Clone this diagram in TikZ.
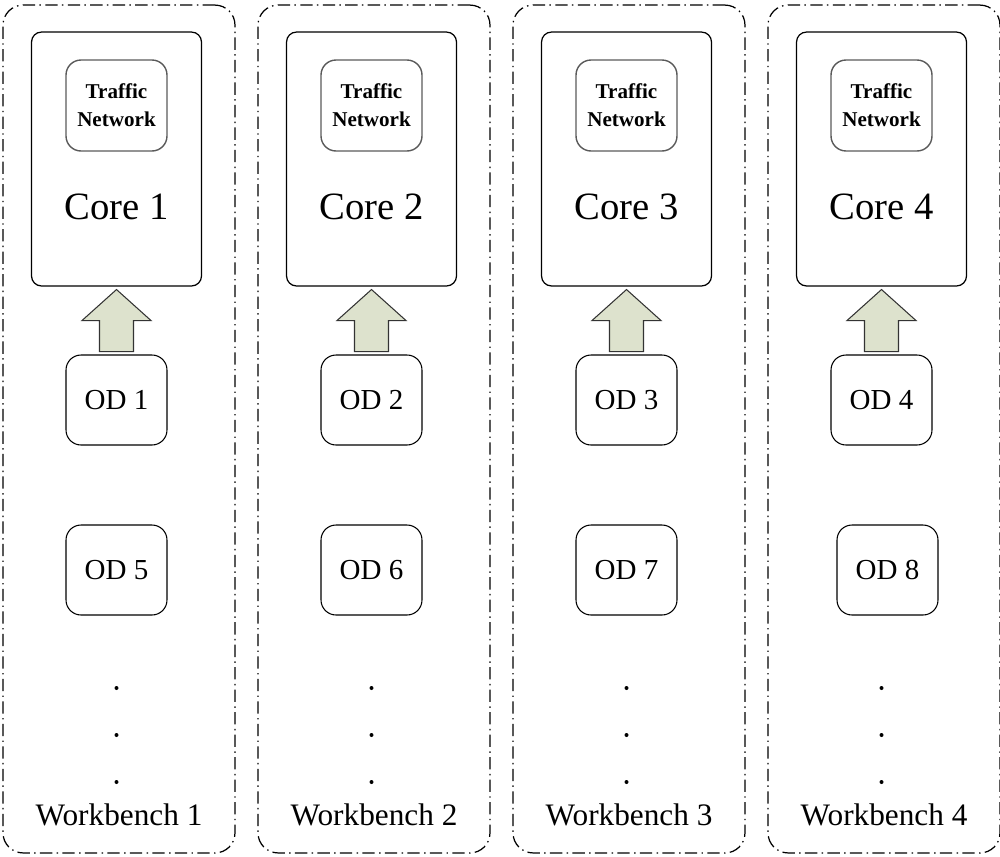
\documentclass[tikz,border=0pt]{standalone}
\usepackage{fontspec}
\setmainfont{Liberation Serif}
\usetikzlibrary{calc}
\definecolor{arrowfill}{RGB}{221, 226, 205}
\definecolor{tngray}{RGB}{90, 90, 90}
\tikzset{
  bench/.style = {draw, line width=0.7pt, rounded corners=0.4cm, minimum width=4.64cm, minimum height=16.96cm,
                  dash pattern=on 7pt off 2.5pt on 0.8pt off 2.5pt},
  core/.style  = {draw, line width=0.7pt, rounded corners=0.2cm, minimum width=3.4cm, minimum height=5.08cm},
  tn/.style    = {draw=tngray, line width=0.8pt, rounded corners=0.3cm, minimum width=2.02cm, minimum height=1.82cm,
                  align=center, font=\fontsize{12}{16}\selectfont\bfseries},
  od/.style    = {draw, line width=0.6pt, rounded corners=0.3cm, minimum width=2.02cm, minimum height=1.8cm,
                  font=\fontsize{16.5}{20}\selectfont},
  label/.style = {font=\fontsize{17.8}{20}\selectfont},
  uparrow/.style = {draw=black!80, line width=0.6pt, fill=arrowfill}
}

\begin{document}
\begin{tikzpicture}[x=0.02cm, y=-0.02cm]
\useasboundingbox (0,0) rectangle (1000,856);
\foreach \i/\lo/\s in {1/5/0, 2/6/0, 3/7/0, 4/8/6}{
  \pgfmathsetmacro\cx{116.5+(\i-1)*255}
  % workbench frame
  \node [bench] (wb\i) at ({\cx+2.5},429) {};
  % core with its traffic network
  \node [core] (core\i) at (\cx,159) {};
  \node [tn] (tn\i) at (\cx,105.5) {Traffic\\Network};
  \node [font=\fontsize{22}{24}\selectfont] (ct\i) at (\cx,207) {Core \i};
  % OD boxes
  \node [od] (od\i) at (\cx,400) {OD \i};
  \node [od] (od\lo) at ({\cx+\s},570) {OD \lo};
  % arrow OD -> core
  \coordinate (m\i) at ($(od\i.north)!0.5!(core\i.south)$);
  \draw[uparrow, shift={(m\i)}] (-17,31) -- (-17,0) -- (-34.5,0) -- (0,-31) -- (34.5,0) -- (17,0) -- (17,31) -- cycle;
  % dots and label
  \foreach \yy in {688, 735, 782}
    \fill (\cx,\yy) circle (2);
  \node [label] (wl\i) at ({\cx+2.5},815) {Workbench \i};
}
\end{tikzpicture}
\end{document}
